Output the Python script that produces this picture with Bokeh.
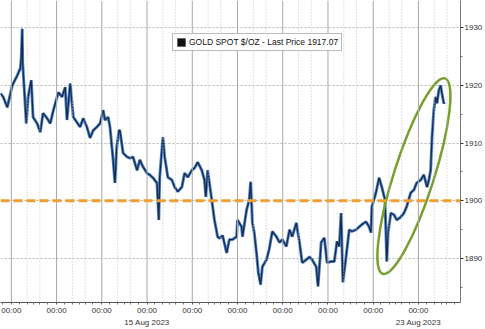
from bokeh.plotting import figure
from bokeh.models import (Span, Label, Legend, LegendItem, FixedTicker, Range1d, LinearAxis)
from bokeh.embed import file_html
from bokeh.resources import INLINE

# ---- data (trading-day index: 0 = 10 Aug 2023 00:00) ----
T = [-0.24,-0.18,-0.09,0.02,0.13,0.20,0.22,0.24,0.25,0.26,0.33,0.37,0.44,0.48,0.57,0.64,0.70,0.79,0.86,0.93,
     1.04,1.12,1.19,1.23,1.30,1.37,1.45,1.52,1.59,1.67,1.74,1.81,1.89,1.96,2.03,2.07,2.14,2.18,2.25,2.29,
     2.33,2.38,2.40,2.47,2.56,2.62,2.69,2.78,2.84,2.91,3.00,3.06,3.13,3.22,3.26,3.28,3.35,3.39,3.46,3.55,
     3.61,3.68,3.77,3.83,3.90,3.99,4.05,4.12,4.21,4.27,4.30,4.34,4.43,4.49,4.56,4.60,4.67,4.76,4.82,4.89,
     4.98,5.00,5.09,5.11,5.20,5.26,5.29,5.33,5.37,5.42,5.46,5.51,5.55,5.64,5.70,5.77,5.86,5.93,5.99,6.08,
     6.15,6.21,6.30,6.37,6.43,6.52,6.59,6.65,6.74,6.78,6.85,6.92,6.98,7.07,7.14,7.20,7.25,7.29,7.33,7.40,
     7.47,7.53,7.62,7.69,7.75,7.84,7.91,7.95,7.97,8.06,8.13,8.19,8.26,8.30,8.33,8.39,8.46,8.52,8.61,8.68,
     8.74,8.83,8.90,8.96,9.05,9.12,9.19,9.23,9.27,9.30,9.34,9.38,9.41,9.45,9.49,9.52,9.56,9.58]
PRICE = [1918.6,1918.0,1916.2,1920.0,1921.7,1923.0,1925.0,1929.8,1924.0,1922.6,1913.4,1918.0,1920.9,1914.5,1913.4,
         1911.9,1915.2,1914.3,1913.4,1915.7,1918.8,1918.0,1919.7,1914.0,1920.3,1914.5,1913.6,1912.8,1914.3,1912.8,
         1910.9,1912.2,1912.8,1913.4,1915.7,1914.0,1914.5,1912.8,1907.1,1903.1,1909.3,1912.2,1912.2,1908.3,1907.6,
         1907.4,1907.6,1905.3,1907.1,1905.9,1904.8,1904.5,1904.0,1903.1,1896.7,1904.1,1911.0,1907.6,1904.1,1903.6,
         1902.4,1901.6,1902.4,1904.8,1904.1,1905.3,1905.7,1906.7,1905.3,1903.6,1900.7,1905.3,1900.2,1896.7,1893.8,
         1893.5,1894.0,1891.0,1893.3,1893.3,1893.8,1896.7,1895.5,1893.8,1898.4,1900.2,1903.3,1896.2,1894.5,1891.0,
         1887.6,1885.5,1888.6,1889.8,1891.6,1894.7,1893.8,1892.8,1893.3,1892.1,1895.0,1893.8,1896.2,1892.8,1889.3,
         1889.8,1890.3,1889.8,1888.6,1885.2,1892.8,1893.6,1889.3,1889.5,1889.5,1893.0,1892.1,1897.9,1885.9,1890.3,
         1895.0,1894.7,1895.0,1895.5,1895.9,1896.4,1895.5,1894.5,1899.0,1901.4,1904.0,1902.4,1900.2,1889.5,1894.5,
         1897.9,1897.6,1896.7,1897.2,1897.9,1899.0,1901.4,1901.9,1903.1,1903.6,1904.5,1902.4,1903.6,1905.3,1911.0,
         1915.7,1918.0,1916.9,1919.1,1920.0,1918.6,1916.9,1917.07]

DAY_TICKS = [0, 1, 2, 3, 4, 5, 6, 7, 8, 9]
TIME_LABEL = "00:00"
DATE_TICKS = [3, 9]
DATE_LABELS = ["15 Aug 2023", "23 Aug 2023"]
Y_TICKS = [1890, 1900, 1910, 1920, 1930]
Y_MINOR = [1885, 1895, 1905, 1915, 1925]
LEVEL = 1900
LAST_PRICE = 1917.07
SERIES_NAME = "GOLD SPOT $/OZ - Last Price 1917.07"
HIGHLIGHT = dict(x=8.90, y=1904.3)  # centre of the green ellipse

FONT = "Liberation Sans"

p = figure(width=485, height=329, output_backend="svg", toolbar_location=None,
           x_range=Range1d(-0.24, 9.93), y_range=Range1d(1882.4, 1934.7),
           y_axis_location="right", min_border_left=0, min_border_top=0,
           min_border_right=0, min_border_bottom=0)
p.outline_line_color = None
p.background_fill_color = "white"
p.border_fill_color = "white"

# grids
p.xgrid.visible = False
p.ygrid.ticker = FixedTicker(ticks=Y_TICKS)
p.ygrid.grid_line_color = "#b5b5b5"
p.ygrid.grid_line_dash = "2 2"
p.ygrid.grid_line_width = 1

for d in range(-1, 10):
    if d >= 0:
        p.add_layout(Span(location=d, dimension="height", line_color="#a8a8a8", line_width=1))
    for off in (0.35, 0.63):
        p.add_layout(Span(location=d + off, dimension="height", line_color="#c4c4c4",
                          line_width=1, line_dash="1 2"))

# level line
p.add_layout(Span(location=LEVEL, dimension="width", line_color="#f0a032",
                  line_width=3, line_dash="9 4"))

# price
p.line(T, PRICE, line_color="#3070b8", line_width=3.0, line_alpha=0.85)
p.line(T, PRICE, line_color="#172a50", line_width=1.3)

# ellipse highlight
p.ellipse(x=[HIGHLIGHT["x"]], y=[HIGHLIGHT["y"]], width=[205], height=[40],
          width_units="screen", height_units="screen", angle=1.262,
          fill_alpha=0, line_color="#77a030", line_width=2.5)

# legend (square swatch: a hidden zero-size box at the last price)
sq = p.quad(left=[T[-1]], right=[T[-1]], top=[PRICE[-1]], bottom=[PRICE[-1]],
            fill_color="#111111", line_color="#666666", visible=False)
legend = Legend(items=[LegendItem(label=SERIES_NAME, renderers=[sq])], location=(172, 251),
                label_text_font=FONT, label_text_font_size="8.5px", label_text_color="#111111",
                glyph_width=10, glyph_height=10, label_height=10, label_standoff=3,
                padding=3, margin=0, spacing=0, inactive_fill_alpha=0,
                border_line_color="#777777", border_line_width=1,
                background_fill_color="white", background_fill_alpha=1)
p.add_layout(legend, "center")

# axes
xa = p.xaxis[0]
xa.ticker = FixedTicker(ticks=DAY_TICKS,
                        minor_ticks=[d + o for d in range(-1, 10) for o in (0.17, 0.35, 0.5, 0.63, 0.8)])
xa.major_label_overrides = {t: TIME_LABEL for t in DAY_TICKS}
xa.major_label_text_font = FONT
xa.major_label_text_font_size = "8px"
xa.major_label_text_color = "#333333"
xa.major_label_standoff = 1
xa.major_tick_in = 0
xa.major_tick_out = 2
xa.minor_tick_in = 0
xa.minor_tick_out = 2
xa.axis_line_color = "#555555"
xa.major_tick_line_color = "#555555"
xa.minor_tick_line_color = "#777777"

# second row of bottom labels: the dates
xa2 = LinearAxis(ticker=FixedTicker(ticks=DATE_TICKS, minor_ticks=[]),
                 major_label_overrides={t: l for t, l in zip(DATE_TICKS, DATE_LABELS)},
                 major_label_text_font=FONT, major_label_text_font_size="8px",
                 major_label_text_color="#333333", major_label_standoff=0,
                 major_tick_in=0, major_tick_out=0, minor_tick_in=0, minor_tick_out=0,
                 axis_line_color=None, major_tick_line_color=None, minor_tick_line_color=None)
p.add_layout(xa2, "below")

ya = p.yaxis[0]
ya.ticker = FixedTicker(ticks=Y_TICKS, minor_ticks=Y_MINOR)
ya.major_label_text_font = FONT
ya.major_label_text_font_size = "8px"
ya.major_label_text_color = "#333333"
ya.major_label_standoff = 1
ya.major_tick_in = 0
ya.major_tick_out = 3
ya.minor_tick_in = 0
ya.minor_tick_out = 2
ya.axis_line_color = "#777777"
ya.major_tick_line_color = "#333333"
ya.minor_tick_line_color = "#777777"

# last price tag
tag = Label(x=466, x_units="screen", y=LAST_PRICE, y_units="data", text=f"{LAST_PRICE:.2f}",
            text_font=FONT, text_font_size="8px", text_color="white", text_font_style="bold",
            text_baseline="middle", background_fill_color="black", padding=2, border_radius=3)
p.add_layout(tag)

open("out.html", "w").write(file_html(p, INLINE))
